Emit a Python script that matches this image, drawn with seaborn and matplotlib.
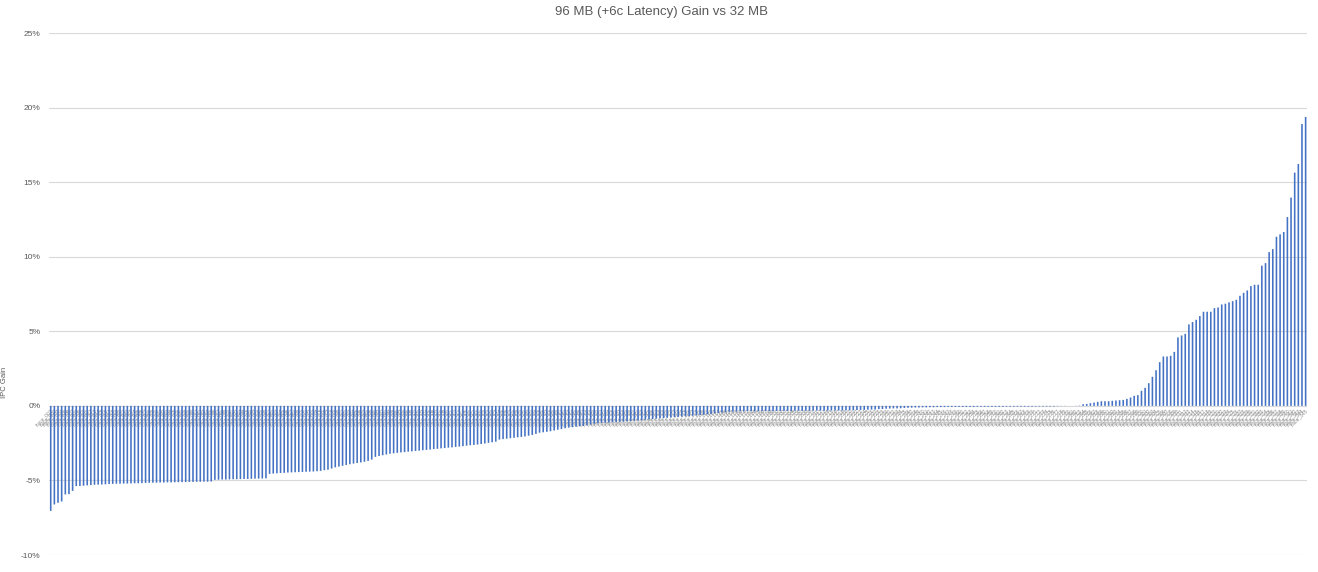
import numpy as np
import pandas as pd
import seaborn as sns
import matplotlib.pyplot as plt

# IPC gain (%) per trace, sorted ascending
neg_steep = [-7.04, -6.61, -6.50, -6.41, -5.94, -5.92, -5.70, -5.38, -5.37, -5.35,
             -5.33, -5.31, -5.29, -5.28, -5.27, -5.26, -5.24, -5.23, -5.22, -5.22,
             -5.21, -5.21, -5.20, -5.19, -5.19, -5.18, -5.17,
             -5.16, -5.15, -5.15, -5.14, -5.14, -5.13, -5.13, -5.12, -5.12, -5.11,
             -5.11, -5.10, -5.10, -5.09, -5.09, -5.08, -5.08, -5.07,
             -4.96, -4.95, -4.94, -4.94, -4.93, -4.92, -4.92, -4.91, -4.90, -4.90,
             -4.89, -4.88, -4.88, -4.87, -4.86,
             -4.56, -4.54, -4.52, -4.50, -4.49, -4.47, -4.46, -4.45, -4.44, -4.43,
             -4.42, -4.41, -4.40, -4.38, -4.36,
             -4.31, -4.28, -4.20, -4.12, -4.07, -4.02, -3.96, -3.91, -3.87, -3.83,
             -3.79, -3.75]
neg_mid = [-3.69, -3.60, -3.42, -3.36, -3.31, -3.26, -3.21, -3.18, -3.15, -3.12,
           -3.10, -3.07, -3.05, -3.02, -3.00, -2.97, -2.95, -2.93, -2.90, -2.88,
           -2.85, -2.83, -2.80, -2.78, -2.75, -2.73, -2.70, -2.67, -2.64, -2.62,
           -2.59, -2.56, -2.52, -2.48,
           -2.44, -2.40, -2.26, -2.23, -2.20, -2.17, -2.14, -2.11, -2.08, -2.05,
           -2.00, -1.95, -1.88, -1.80, -1.77, -1.74, -1.70, -1.65, -1.60, -1.56,
           -1.50, -1.46, -1.43, -1.40, -1.37, -1.35, -1.30, -1.25, -1.20, -1.16,
           -1.14, -1.13, -1.12, -1.10, -1.09, -1.07, -1.06, -1.04, -1.02, -1.00,
           -0.98, -0.96, -0.93, -0.91, -0.88, -0.86, -0.84, -0.82, -0.80, -0.78,
           -0.76, -0.74, -0.72, -0.70, -0.68, -0.66, -0.64, -0.62, -0.60, -0.57,
           -0.54, -0.50, -0.47]
neg_flat = [-0.45, -0.42, -0.40, -0.39, -0.38, -0.37, -0.37, -0.36,
            -0.36, -0.36, -0.36, -0.35, -0.35, -0.35, -0.35, -0.34, -0.34, -0.34,
            -0.34, -0.34, -0.33, -0.33, -0.33, -0.33, -0.33, -0.32, -0.32, -0.32,
            -0.32, -0.32, -0.31, -0.31, -0.31, -0.31, -0.30, -0.30, -0.29, -0.28,
            -0.27, -0.27, -0.26, -0.25, -0.24, -0.22, -0.21, -0.19, -0.18, -0.17,
            -0.17, -0.16, -0.14, -0.13, -0.12, -0.11, -0.11, -0.10, -0.10, -0.09,
            -0.09, -0.08, -0.08, -0.08,
            -0.07, -0.07, -0.07, -0.07, -0.07, -0.07, -0.07, -0.07,
            -0.06, -0.06, -0.06, -0.06, -0.06, -0.06, -0.06, -0.06,
            -0.05, -0.05, -0.05, -0.05, -0.05, -0.05, -0.05, -0.05,
            -0.04, -0.04, -0.04, -0.04, -0.04, -0.04]
near_zero = [-0.02, -0.01, -0.01, 0.0, 0.0, 0.01, 0.02]
pos_tail = [0.11, 0.13, 0.18, 0.22, 0.27, 0.31, 0.31, 0.31, 0.34, 0.36,
            0.38, 0.40, 0.47, 0.56, 0.67, 0.72, 1.01, 1.21, 1.52, 1.95,
            2.39, 2.93, 3.31, 3.31, 3.36, 3.62, 4.59, 4.72, 4.83, 5.46,
            5.62, 5.77, 6.02, 6.31, 6.31, 6.31, 6.55, 6.60, 6.80, 6.85,
            6.94, 7.02, 7.11, 7.38, 7.58, 7.74, 8.03, 8.12, 8.12, 9.40,
            9.57, 10.31, 10.51, 11.34, 11.50, 11.66, 12.66, 13.96, 15.64, 16.22,
            18.90, 19.37]

gains = neg_steep + neg_mid + neg_flat + near_zero + pos_tail
# trace names are not legible in the source; placeholder ids
traces = [f"trace_{i:03d}" for i in range(1, len(gains) + 1)]
y_ticks = [-10, -5, 0, 5, 10, 15, 20, 25]

df = pd.DataFrame({"trace": traces, "gain": gains})

sns.set_style("white")
plt.rcParams['font.family'] = ['Liberation Sans', 'DejaVu Sans']

fig = plt.figure(figsize=(13.18, 5.72), dpi=100)
ax = fig.add_axes([0.0371, 0.0297, 0.9549, 0.9126])

sns.barplot(data=df, x="trace", y="gain", order=traces, color="#4472C4",
            saturation=1, width=0.44, errorbar=None, linewidth=0, ax=ax)
# bars are narrower than a pixel pair, so let them antialias instead of snapping
for p in ax.patches:
    p.set_snap(False)
    p.set_antialiased(True)
    p.set_edgecolor("none")

ax.set_xlim(-0.5, len(gains) - 0.5)
ax.set_ylim(-10, 25)
ax.set_yticks(y_ticks)
ax.set_yticklabels([f"{v}%" for v in y_ticks], fontsize=6, color="#595959")
ax.yaxis.grid(True, color="#d9d9d9", linewidth=0.8)
ax.set_axisbelow(True)
for s in ax.spines.values():
    s.set_visible(False)
ax.tick_params(axis="both", length=0)
ax.tick_params(axis="y", pad=6)

# category labels sit along the 0% line like in Excel
ax.spines["bottom"].set_position(("data", 0))
ax.set_xticks(range(len(traces)))
ax.set_xticklabels(traces, rotation=45, ha="right", rotation_mode="anchor",
                   fontsize=3.6, color="#8c8c8c")
ax.tick_params(axis="x", pad=1.5)

ax.set_xlabel("")
ax.set_ylabel("IPC Gain", fontsize=5.5, color="#595959")
ax.yaxis.set_label_coords(-0.0325, 0.33)

fig.text(0.502, 0.979, "96 MB (+6c Latency) Gain vs 32 MB", ha="center",
         va="center", fontsize=9.5, color="#595959")

fig.savefig("out.png", dpi=100)
